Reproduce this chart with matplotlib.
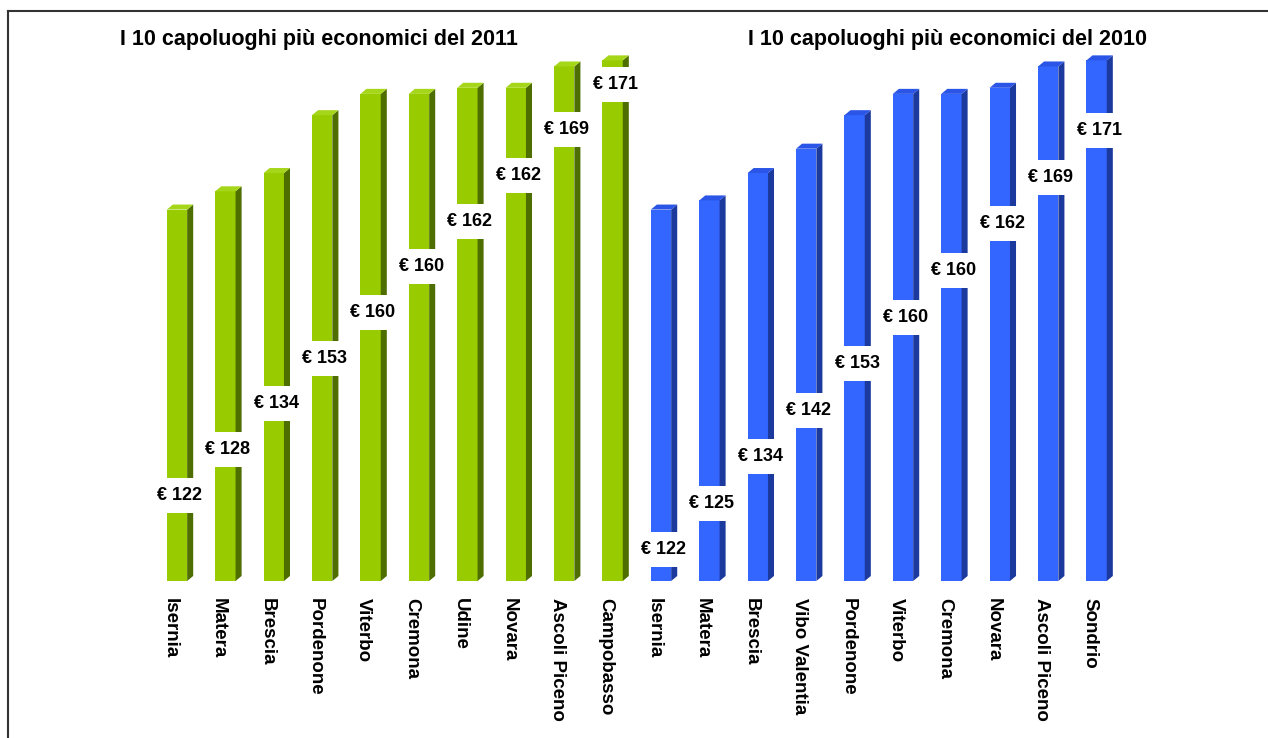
import matplotlib
matplotlib.use("Agg")
import matplotlib.pyplot as plt
from matplotlib.lines import Line2D

plt.rcParams["font.family"] = ["Liberation Sans", "DejaVu Sans"]

# Dati
citta_2011 = ["Isernia", "Matera", "Brescia", "Pordenone", "Viterbo",
              "Cremona", "Udine", "Novara", "Ascoli Piceno", "Campobasso"]
valori_2011 = [122, 128, 134, 153, 160, 160, 162, 162, 169, 171]

citta_2010 = ["Isernia", "Matera", "Brescia", "Vibo Valentia", "Pordenone",
              "Viterbo", "Cremona", "Novara", "Ascoli Piceno", "Sondrio"]
valori_2010 = [122, 125, 134, 142, 153, 160, 160, 162, 169, 171]

titolo_2011 = "I 10 capoluoghi più economici del 2011"
titolo_2010 = "I 10 capoluoghi più economici del 2010"

# Stile
VERDE = {"front": "#99cc00", "side": "#4f6e00", "top": "#a6d61a"}
BLU = {"front": "#3366ff", "side": "#1c399e", "top": "#2a55e6"}
BAR_W = 0.42
DX, DY = 0.125, 1.65


def draw_bars(ax, start, values, colors):
    for k, v in enumerate(values):
        x = start + k
        left, right = x - BAR_W / 2, x + BAR_W / 2
        ax.bar(x, v, width=BAR_W, color=colors["front"], zorder=2)
        # lato destro
        ax.fill([right, right + DX, right + DX, right],
                [0, DY, v + DY, v], color=colors["side"], lw=0, zorder=2)
        # faccia superiore
        ax.fill([left, left + DX, right + DX, right],
                [v, v + DY, v + DY, v], color=colors["top"], lw=0, zorder=2)


def draw_labels(ax, start, values, y0, step):
    for k, v in enumerate(values):
        ax.text(start + k + 0.05, y0 + step * k, f"€ {v}",
                ha="center", va="center", fontsize=13, fontweight="bold",
                zorder=3,
                bbox=dict(boxstyle="square,pad=0.5", fc="white", ec="none"))


fig = plt.figure(figsize=(12.68, 7.38), dpi=100)
ax = fig.add_axes([128 / 1268, 157 / 738, 1022 / 1268, 541 / 738])

n = len(valori_2011)
draw_bars(ax, 0, valori_2011, VERDE)
draw_bars(ax, n, valori_2010, BLU)
draw_labels(ax, 0, valori_2011, 28.2, 15.0)
draw_labels(ax, n, valori_2010, 10.2, 15.3)

ax.set_xlim(-1.012, 20.103)
ax.set_ylim(0, 177.7)
ax.set_xticks([i - 0.14 for i in range(2 * n)])
ax.set_xticklabels(citta_2011 + citta_2010, rotation=270, fontsize=13.5,
                   fontweight="bold", va="top", ha="center")
ax.tick_params(axis="x", length=0, pad=12)
ax.set_yticks([])
for s in ax.spines.values():
    s.set_visible(False)

fig.text(120 / 1268, 1 - 40 / 738, titolo_2011, fontsize=15.5,
         fontweight="bold", va="center", ha="left")
fig.text(748 / 1268, 1 - 40 / 738, titolo_2010, fontsize=15.5,
         fontweight="bold", va="center", ha="left")

# cornice
fig.add_artist(Line2D([7.5 / 1268, 7.5 / 1268], [0, 1 - 11 / 738],
                      color="#333333", lw=1.5))
fig.add_artist(Line2D([7.5 / 1268, 1], [1 - 11 / 738, 1 - 11 / 738],
                      color="#333333", lw=1.5))

fig.savefig("out.png", dpi=100)
plt.close(fig)
